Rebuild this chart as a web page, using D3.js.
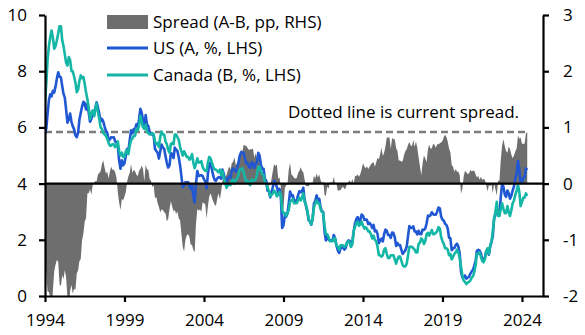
<!DOCTYPE html>
<html>
<head>
<meta charset="utf-8">
<script src="https://cdn.jsdelivr.net/npm/d3@7"></script>
<style>
  body { margin: 0; background: #fff; }
  text { font-family: "Open Sans", Lato, sans-serif; }
</style>
</head>
<body>
<svg id="chart" width="585" height="335"></svg>
<script>
// Monthly 10-year government bond yields (%), Jan 1994 onwards
const firstMonth = [1994, 0];
const usYield = [
  5.75, 5.97, 6.48, 6.97, 7.18, 7.10, 7.30, 7.24, 7.46, 7.74, 7.96, 7.81, // 1994
  7.78, 7.47, 7.20, 7.06, 6.63, 6.17, 6.28, 6.49, 6.20, 6.04, 5.93, 5.71, // 1995
  5.65, 5.81, 6.27, 6.51, 6.74, 6.91, 6.87, 6.64, 6.83, 6.53, 6.20, 6.30, // 1996
  6.58, 6.42, 6.69, 6.89, 6.71, 6.49, 6.22, 6.30, 6.21, 6.03, 5.88, 5.81, // 1997
  5.54, 5.57, 5.65, 5.64, 5.65, 5.50, 5.46, 5.34, 4.81, 4.53, 4.83, 4.65, // 1998
  4.72, 5.00, 5.23, 5.18, 5.54, 5.90, 5.79, 5.94, 5.92, 6.11, 6.03, 6.28, // 1999
  6.66, 6.52, 6.26, 5.99, 6.44, 6.10, 6.05, 5.83, 5.80, 5.74, 5.72, 5.24, // 2000
  5.16, 5.10, 4.89, 5.14, 5.39, 5.28, 5.24, 4.97, 4.73, 4.57, 4.65, 5.09, // 2001
  5.04, 4.91, 5.28, 5.21, 5.16, 4.93, 4.65, 4.26, 3.87, 3.94, 4.05, 4.03, // 2002
  4.05, 3.90, 3.81, 3.96, 3.57, 3.33, 3.98, 4.45, 4.27, 4.29, 4.30, 4.27, // 2003
  4.15, 4.08, 3.83, 4.35, 4.72, 4.73, 4.50, 4.28, 4.13, 4.10, 4.19, 4.23, // 2004
  4.22, 4.17, 4.50, 4.34, 4.14, 4.00, 4.18, 4.26, 4.20, 4.46, 4.54, 4.47, // 2005
  4.42, 4.57, 4.72, 4.99, 5.11, 5.11, 5.09, 4.88, 4.72, 4.73, 4.60, 4.56, // 2006
  4.76, 4.72, 4.56, 4.69, 4.75, 5.10, 5.00, 4.67, 4.52, 4.53, 4.15, 4.10, // 2007
  3.74, 3.74, 3.51, 3.68, 3.88, 4.10, 4.01, 3.89, 3.69, 3.81, 3.53, 2.42, // 2008
  2.52, 2.87, 2.82, 2.93, 3.29, 3.72, 3.56, 3.59, 3.40, 3.39, 3.40, 3.59, // 2009
  3.73, 3.69, 3.73, 3.85, 3.42, 3.20, 3.01, 2.70, 2.65, 2.54, 2.76, 3.29, // 2010
  3.39, 3.58, 3.41, 3.46, 3.17, 3.00, 3.00, 2.30, 1.98, 2.15, 2.01, 1.98, // 2011
  1.97, 1.97, 2.17, 2.05, 1.80, 1.62, 1.53, 1.68, 1.72, 1.75, 1.65, 1.72, // 2012
  1.91, 1.98, 1.96, 1.76, 1.93, 2.30, 2.58, 2.74, 2.81, 2.62, 2.72, 2.90, // 2013
  2.86, 2.71, 2.72, 2.71, 2.56, 2.60, 2.54, 2.42, 2.53, 2.30, 2.33, 2.21, // 2014
  1.88, 1.98, 2.04, 1.94, 2.20, 2.36, 2.32, 2.17, 2.17, 2.07, 2.26, 2.24, // 2015
  2.09, 1.78, 1.89, 1.81, 1.81, 1.64, 1.50, 1.56, 1.63, 1.76, 2.14, 2.49, // 2016
  2.43, 2.42, 2.48, 2.30, 2.30, 2.19, 2.32, 2.21, 2.20, 2.36, 2.35, 2.40, // 2017
  2.58, 2.86, 2.84, 2.87, 2.98, 2.91, 2.89, 2.89, 3.00, 3.15, 3.12, 2.83, // 2018
  2.71, 2.68, 2.57, 2.53, 2.40, 2.07, 2.06, 1.63, 1.70, 1.71, 1.81, 1.86, // 2019
  1.76, 1.50, 0.87, 0.66, 0.67, 0.73, 0.62, 0.65, 0.68, 0.79, 0.87, 0.93, // 2020
  1.08, 1.26, 1.61, 1.64, 1.62, 1.52, 1.32, 1.28, 1.37, 1.58, 1.56, 1.47, // 2021
  1.76, 1.93, 2.13, 2.75, 2.90, 3.14, 2.90, 2.90, 3.52, 3.98, 3.89, 3.62, // 2022
  3.53, 3.75, 3.66, 3.46, 3.57, 3.75, 3.90, 4.17, 4.38, 4.80, 4.50, 4.02, // 2023
  4.06, 4.21, 4.21, 4.54, 4.48                                            // 2024
];
const canadaYield = [
  6.90, 7.60, 8.40, 8.90, 9.20, 9.45, 9.20, 8.80, 8.90, 9.10, 9.35, 9.60, // 1994
  9.60, 9.10, 8.90, 8.60, 8.30, 8.20, 8.50, 8.40, 8.00, 8.00, 7.80, 7.60, // 1995
  7.25, 7.35, 7.65, 7.85, 7.75, 7.80, 7.55, 7.25, 7.00, 6.70, 6.30, 6.50, // 1996
  6.60, 6.40, 6.65, 6.85, 6.55, 6.30, 6.00, 5.95, 5.80, 5.75, 5.70, 5.60, // 1997
  5.45, 5.35, 5.35, 5.40, 5.40, 5.30, 5.35, 5.50, 5.15, 5.00, 5.10, 4.95, // 1998
  4.95, 5.15, 5.20, 5.05, 5.35, 5.55, 5.60, 5.70, 5.70, 5.95, 5.90, 6.05, // 1999
  6.40, 6.20, 6.00, 5.95, 6.10, 5.85, 5.80, 5.75, 5.75, 5.80, 5.75, 5.50, // 2000
  5.40, 5.45, 5.30, 5.65, 5.85, 5.75, 5.75, 5.50, 5.40, 5.20, 5.10, 5.40, // 2001
  5.45, 5.40, 5.75, 5.75, 5.65, 5.55, 5.30, 5.15, 5.00, 5.15, 5.05, 4.95, // 2002
  4.95, 4.85, 4.90, 5.05, 4.75, 4.55, 4.70, 4.90, 4.75, 4.75, 4.80, 4.60, // 2003
  4.50, 4.45, 4.45, 4.75, 4.95, 4.90, 4.75, 4.60, 4.50, 4.50, 4.45, 4.40, // 2004
  4.50, 4.30, 4.45, 4.20, 4.05, 3.85, 3.95, 3.95, 3.95, 4.10, 4.15, 4.00, // 2005
  4.10, 4.20, 4.30, 4.50, 4.50, 4.55, 4.40, 4.20, 4.05, 4.10, 4.00, 3.95, // 2006
  4.15, 4.10, 4.10, 4.15, 4.30, 4.60, 4.60, 4.45, 4.35, 4.30, 4.05, 4.00, // 2007
  3.85, 3.75, 3.55, 3.60, 3.65, 3.75, 3.70, 3.55, 3.60, 3.70, 3.60, 3.05, // 2008
  2.95, 2.95, 2.85, 2.95, 3.05, 3.35, 3.40, 3.45, 3.30, 3.30, 3.30, 3.40, // 2009
  3.50, 3.40, 3.50, 3.65, 3.35, 3.25, 3.05, 2.75, 2.65, 2.55, 2.75, 3.15, // 2010
  3.30, 3.40, 3.30, 3.30, 3.10, 3.00, 2.95, 2.50, 2.20, 2.20, 2.10, 1.95, // 2011
  1.95, 1.95, 2.05, 2.05, 1.80, 1.75, 1.65, 1.80, 1.80, 1.80, 1.75, 1.80, // 2012
  1.90, 1.95, 1.90, 1.75, 1.85, 2.30, 2.45, 2.60, 2.65, 2.50, 2.55, 2.65, // 2013
  2.50, 2.40, 2.45, 2.40, 2.30, 2.30, 2.20, 2.05, 2.15, 2.00, 1.95, 1.75, // 2014
  1.45, 1.45, 1.40, 1.45, 1.65, 1.70, 1.50, 1.35, 1.35, 1.45, 1.45, 1.45, // 2015
  1.30, 1.15, 1.30, 1.40, 1.40, 1.25, 1.10, 1.05, 1.05, 1.15, 1.45, 1.75, // 2016
  1.75, 1.75, 1.70, 1.65, 1.55, 1.55, 1.85, 1.90, 2.05, 2.00, 1.85, 1.95, // 2017
  2.20, 2.25, 2.15, 2.25, 2.35, 2.20, 2.20, 2.25, 2.30, 2.45, 2.40, 2.10, // 2018
  1.95, 1.85, 1.70, 1.70, 1.65, 1.45, 1.50, 1.30, 1.40, 1.50, 1.55, 1.65, // 2019
  1.55, 1.35, 1.05, 0.75, 0.55, 0.50, 0.42, 0.48, 0.50, 0.55, 0.65, 0.70, // 2020
  0.85, 1.10, 1.50, 1.50, 1.55, 1.40, 1.25, 1.20, 1.30, 1.60, 1.70, 1.50, // 2021
  1.80, 1.95, 2.30, 2.75, 3.00, 3.35, 2.85, 2.85, 3.10, 3.30, 3.10, 2.95, // 2022
  2.95, 3.20, 3.00, 2.85, 3.05, 3.30, 3.40, 3.60, 3.75, 3.95, 3.70, 3.20, // 2023
  3.35, 3.50, 3.50, 3.65, 3.56                                            // 2024
];
const yearTicks = [1994, 1999, 2004, 2009, 2014, 2019, 2024];
const leftTicks = [0, 2, 4, 6, 8, 10];
const rightTicks = [-2, -1, 0, 1, 2, 3];
const legendLabels = ["Spread (A-B, pp, RHS)", "US (A, %, LHS)", "Canada (B, %, LHS)"];
const noteText = "Dotted line is current spread.";

const colors = { spread: "#6e6e6e", us: "#2057d2", canada: "#14b6a6", dash: "#7c7c7c" };
const fontStack = "'Open Sans', Lato, sans-serif";

const W = 585, H = 335;
const m = { l: 45, r: 42, t: 15, b: 39 };

const data = usYield.map((u, i) => ({
  date: new Date(firstMonth[0], firstMonth[1] + i, 1),
  us: u,
  ca: canadaYield[i],
  spread: u - canadaYield[i]
}));
const current = data[data.length - 1];

const x = d3.scaleTime()
  .domain([new Date(1994, 0, 1), new Date(2025, 3, 28)])
  .range([m.l, W - m.r]);
const yL = d3.scaleLinear().domain([0, 10]).range([H - m.b, m.t]);
const yR = d3.scaleLinear().domain([-2, 3]).range([H - m.b, m.t]);

const svg = d3.select("#chart");
svg.append("rect").attr("width", W).attr("height", H).attr("fill", "#fff");

svg.append("clipPath").attr("id", "plot")
  .append("rect")
  .attr("x", m.l).attr("y", m.t)
  .attr("width", W - m.l - m.r).attr("height", H - m.t - m.b);

const plot = svg.append("g").attr("clip-path", "url(#plot)");

// spread as an area around zero on the right-hand scale
plot.append("path")
  .datum(data)
  .attr("fill", colors.spread)
  .attr("d", d3.area()
    .x(d => x(d.date))
    .y0(yR(0))
    .y1(d => yR(d.spread)));

// current spread reference
plot.append("line")
  .attr("x1", x(data[0].date)).attr("x2", x(current.date))
  .attr("y1", yR(current.spread)).attr("y2", yR(current.spread))
  .attr("stroke", colors.dash)
  .attr("stroke-width", 2.5)
  .attr("stroke-dasharray", "7 4");

// zero line of the spread
svg.append("line")
  .attr("x1", m.l).attr("x2", W - m.r)
  .attr("y1", yR(0)).attr("y2", yR(0))
  .attr("stroke", "#000").attr("stroke-width", 2.2);

const lineFor = key => d3.line().x(d => x(d.date)).y(d => yL(d[key]));

plot.append("path").datum(data)
  .attr("fill", "none").attr("stroke", colors.us)
  .attr("stroke-width", 2.6).attr("stroke-linejoin", "round")
  .attr("d", lineFor("us"));

plot.append("path").datum(data)
  .attr("fill", "none").attr("stroke", colors.canada)
  .attr("stroke-width", 2.6).attr("stroke-linejoin", "round")
  .attr("d", lineFor("ca"));

// axes
function styleAxis(g) {
  g.selectAll(".domain").attr("stroke", "#000").attr("stroke-width", 2.2);
  g.selectAll(".tick line").attr("stroke", "#000").attr("stroke-width", 2.2);
  g.selectAll(".tick text").attr("fill", "#000").style("font-size", "17px")
    .style("font-family", fontStack);
}

svg.append("g")
  .attr("transform", `translate(${m.l},0)`)
  .call(d3.axisLeft(yL).tickValues(leftTicks).tickSize(6).tickSizeOuter(0).tickPadding(12))
  .call(styleAxis);

svg.append("g")
  .attr("transform", `translate(${W - m.r},0)`)
  .call(d3.axisRight(yR).tickValues(rightTicks).tickSize(6).tickSizeOuter(0).tickPadding(14)
    .tickFormat(d => d < 0 ? "-" + Math.abs(d) : String(d)))
  .call(styleAxis);

svg.append("g")
  .attr("transform", `translate(0,${H - m.b})`)
  .call(d3.axisBottom(x)
    .tickValues(yearTicks.map(yr => new Date(yr, 0, 1)))
    .tickFormat(d3.timeFormat("%Y"))
    .tickSize(6).tickSizeOuter(0).tickPadding(12))
  .call(styleAxis);

// legend
const lg = svg.append("g").style("font-size", "17px").style("font-family", fontStack);
lg.append("rect").attr("x", 107).attr("y", 15).attr("width", 41).attr("height", 14)
  .attr("fill", colors.spread);
lg.append("line").attr("x1", 107).attr("x2", 148).attr("y1", 48).attr("y2", 48)
  .attr("stroke", colors.us).attr("stroke-width", 3);
lg.append("line").attr("x1", 107).attr("x2", 148).attr("y1", 75).attr("y2", 75)
  .attr("stroke", colors.canada).attr("stroke-width", 3);
[22, 48, 75].forEach((yy, i) => {
  lg.append("text").attr("x", 153).attr("y", yy).attr("dy", "0.35em")
    .attr("fill", "#000").text(legendLabels[i]);
});

svg.append("text")
  .attr("x", 519).attr("y", 112).attr("dy", "0.35em")
  .attr("text-anchor", "end")
  .style("font-size", "17px").style("font-family", fontStack).attr("fill", "#000")
  .text(noteText);
</script>
</body>
</html>
